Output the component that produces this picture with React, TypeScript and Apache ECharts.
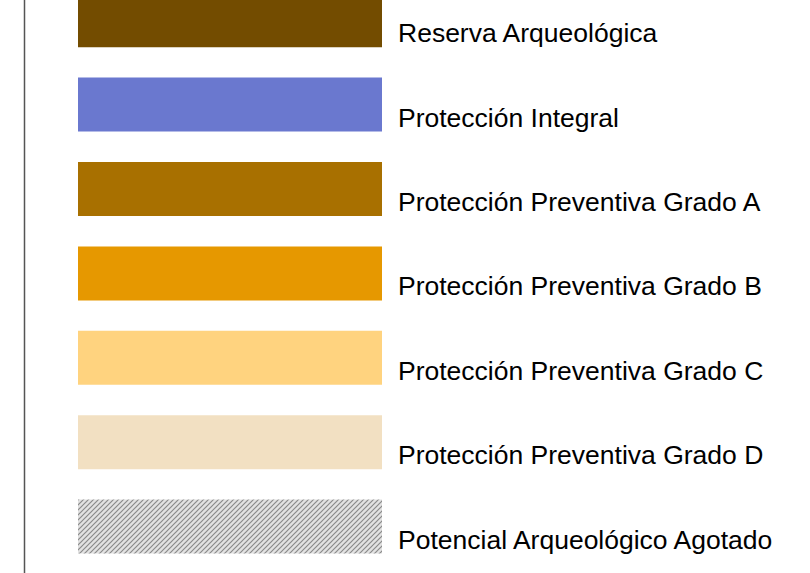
import React, { useEffect, useRef } from "react";
import * as echarts from "echarts";

const categories = [
  "Reserva Arqueológica",
  "Protección Integral",
  "Protección Preventiva Grado A",
  "Protección Preventiva Grado B",
  "Protección Preventiva Grado C",
  "Protección Preventiva Grado D",
  "Potencial Arqueológico Agotado",
];
const swatchLengths = [1, 1, 1, 1, 1, 1, 1];
const swatchColors = ["#734c00", "#6a78cf", "#a87000", "#e69800", "#ffd37f", "#f2e0c2", "hatch"];

const SHIFT = 22.2;
const BAND = 84.4;

function makeHatch(): HTMLCanvasElement {
  const s = 5;
  const c = document.createElement("canvas");
  c.width = s;
  c.height = s;
  const ctx = c.getContext("2d")!;
  ctx.fillStyle = "#e2e2e2";
  ctx.fillRect(0, 0, s, s);
  ctx.strokeStyle = "#8a8a8a";
  ctx.lineWidth = 1.2;
  ctx.beginPath();
  ctx.moveTo(-1, s + 1);
  ctx.lineTo(s + 1, -1);
  ctx.moveTo(-1, 1);
  ctx.lineTo(1, -1);
  ctx.moveTo(s - 1, s + 1);
  ctx.lineTo(s + 1, s - 1);
  ctx.stroke();
  return c;
}

export default function App() {
  const ref = useRef<HTMLDivElement>(null);
  useEffect(() => {
    document.body.style.margin = "0";
    const chart = echarts.init(ref.current!, undefined, { renderer: "svg" });
    const hatch = makeHatch();
    const h = 573 + SHIFT + 20;
    chart.setOption({
      animation: false,
      backgroundColor: "#ffffff",
      grid: { left: 78, width: 304, top: 0, height: BAND * categories.length },
      xAxis: { type: "value", min: 0, max: 1, show: false },
      yAxis: { type: "category", data: categories, inverse: true, show: false },
      graphic: [
        {
          type: "line",
          shape: { x1: 24.5, y1: 0, x2: 24.5, y2: h },
          style: { stroke: "#555555", lineWidth: 1.5 },
        },
      ],
      series: [
        {
          type: "bar",
          barWidth: 54,
          data: swatchLengths.map((v, i) => ({
            value: v,
            itemStyle: {
              color:
                swatchColors[i] === "hatch"
                  ? { image: hatch, repeat: "repeat" }
                  : swatchColors[i],
            },
          })),
          label: {
            show: true,
            position: "right",
            distance: 16,
            offset: [0, 13],
            formatter: "{b}",
            fontSize: 26.5,
            fontFamily: "'Liberation Sans', Arial, sans-serif",
            color: "#000000",
          },
        },
      ],
    });
    return () => chart.dispose();
  }, []);
  return (
    <div style={{ position: "relative", width: 810, height: 573, overflow: "hidden" }}>
      <div
        ref={ref}
        style={{ position: "absolute", left: 0, top: -SHIFT, width: 810, height: 573 + SHIFT + 20 }}
      />
    </div>
  );
}
